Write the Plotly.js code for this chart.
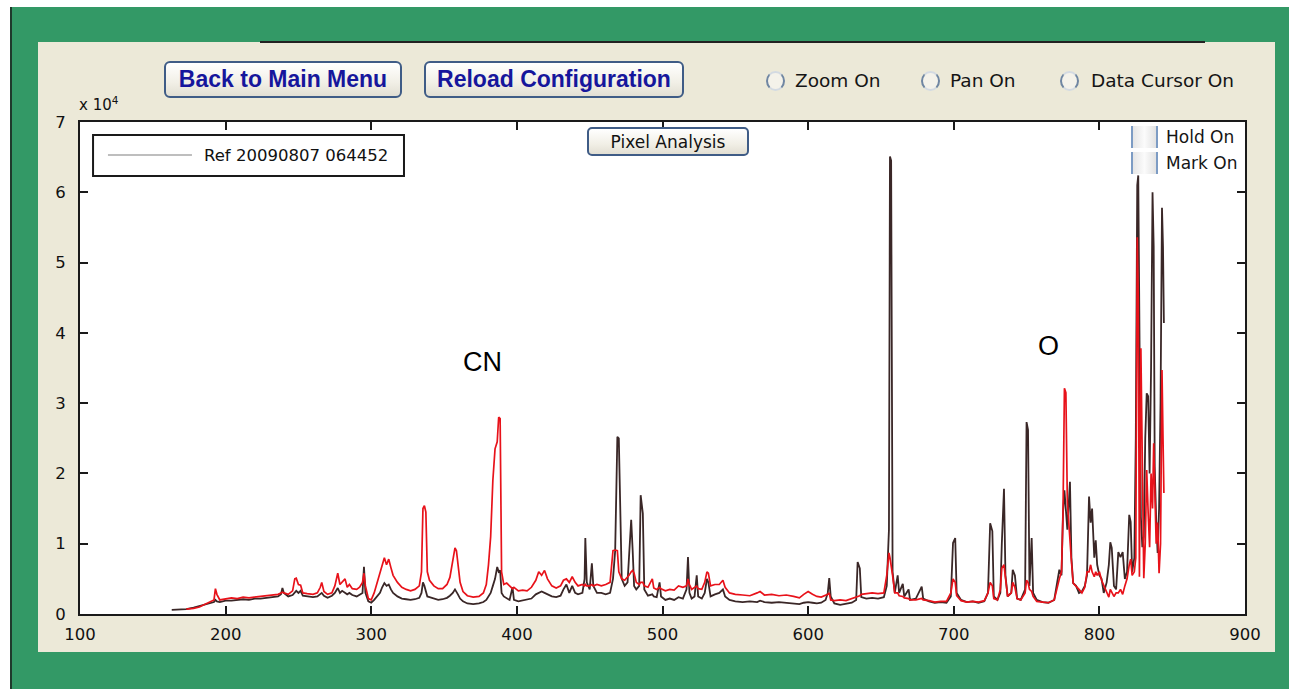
<!DOCTYPE html>
<html>
<head>
<meta charset="utf-8">
<script src="https://cdn.plot.ly/plotly-3.0.1.min.js"></script>
<style>
  html, body { margin:0; padding:0; background:#ffffff; }
  #stage { position:relative; width:1289px; height:689px; overflow:hidden; background:#ffffff; }
  .abs { position:absolute; }
  .btn { position:absolute; box-sizing:border-box; border:2px solid #3f5c86; border-radius:6px;
         background:linear-gradient(#ffffff, #f1efe6 60%, #e2dfd3); display:flex; align-items:center;
         justify-content:center; white-space:nowrap; }
  .btn.big { font:bold 23px 'Liberation Sans', Arial, sans-serif; color:#16169c; }
  .btn.small { font:17px 'DejaVu Sans', sans-serif; color:#111; border-width:2px; border-radius:5px; }
  .radio { position:absolute; box-sizing:border-box; width:19px; height:20px; border:2px solid;
           border-color:#d3dae2 #6f86a2 #d3dae2 #6f86a2; border-radius:50%; background:#f4f2ea; }
  .lbl { position:absolute; font:18.5px 'DejaVu Sans', sans-serif; color:#151515; white-space:nowrap;
         height:22px; line-height:22px; }
  .chk { position:absolute; box-sizing:border-box; width:27px; height:22px; border-left:2px solid #7d9cc4;
         border-right:2px solid #7d9cc4; background:linear-gradient(90deg,#e6e6e6,#fbfbfb 50%,#e2e2e2); }
  .chklbl { position:absolute; font:17px 'DejaVu Sans', sans-serif; color:#151515; white-space:nowrap;
            height:20px; line-height:20px; }
</style>
</head>
<body>
<div id="stage">
  <div class="abs" style="left:10px;top:7px;width:1279px;height:682px;background:#339966;border-left:2px solid #1f3a2c;box-sizing:border-box;"></div>
  <div class="abs" style="left:38px;top:42px;width:1237px;height:610px;background:#ece9d8;"></div>
  <div class="abs" style="left:260px;top:41px;width:945px;height:2px;background:#222;"></div>
  <div id="chart" class="abs" style="left:0;top:0;width:1289px;height:689px;"></div>

  <div class="btn big" style="left:164px;top:61px;width:238px;height:37px;">Back to Main Menu</div>
  <div class="btn big" style="left:424px;top:61px;width:260px;height:37px;">Reload Configuration</div>

  <div class="radio" style="left:766px;top:71px;"></div>
  <div class="lbl" style="left:795px;top:70px;">Zoom On</div>
  <div class="radio" style="left:921px;top:71px;"></div>
  <div class="lbl" style="left:950px;top:70px;">Pan On</div>
  <div class="radio" style="left:1060px;top:71px;"></div>
  <div class="lbl" style="left:1091px;top:70px;">Data Cursor On</div>

  <div class="btn small" style="left:587px;top:127px;width:162px;height:29px;">Pixel Analysis</div>

  <div class="chk" style="left:1131px;top:126px;"></div>
  <div class="chklbl" style="left:1166px;top:127px;">Hold On</div>
  <div class="chk" style="left:1131px;top:152px;"></div>
  <div class="chklbl" style="left:1166px;top:153px;">Mark On</div>
</div>

<script>
// Wavelength (nm)
const wavelength = [
 163,170,173,178,182,186,189,192,193,194,196,200,204,208,212,216,220,224,228,232,236,238,239,240,243,246,247.5,248.5,250,251.5,
 253,256,260,263,265,266,267.5,270,273,275,277,278.5,280,282,283.5,285,287,290,292,294,295,296,298,300,302,304,306,307.5,309,310.5,
 312,313.5,315,318,321,324,327,330,333,334.5,335.5,336.5,337.5,338.5,340,343,346,349,352,354,356,357.5,358.5,359.5,361,363,366,370,374,377,
 379,380.5,382,383.5,385,386.5,387.5,388.5,389.5,391,393,395,397,398,401,404,407,410,413,415,417,419,421,424,427,430,432,434,436,438,
 440,442,445,446.5,447,448,450,451.5,452.5,455,458,461,464,466,467.5,469,470,471,472,474,476,477,478.5,479.5,480.5,482,484,485,486.5,487.5,
 490,493,494,496,498,499,502,505,508,511,514,516.5,517.5,518.5,520,522,523.5,524.5,527,529,530.5,531.5,533,536,539,541.5,543,546,550,555,
 560,565,567,570,575,580,585,590,594,597,600,603,606,609,612,613.5,614.5,615.5,618,622,626,630,633,634,635.5,636.5,640,644,648,652,
 654,655.5,656.2,657,658,659.5,661.5,662.5,665,666,669,670,674,678,679,683,687,691,695,698,699.5,701,702,705,709,713,717,721,723.5,725,
 726.5,727.5,730,732,733,734.5,735.5,737,739.5,740.5,742,743.5,746,749,750,751,752,753.5,754.5,757,761,765,769,771,772.5,774,775,776,
 777,778,779.8,780.8,782,784,786,788,790,791.5,792.9,794,795,796.5,797.5,798.5,800,801.5,803,805,806.5,807.5,808.5,810,811.5,813,814.5,816,
 817.5,819,820.5,821.5,822.5,824,825,826,826.7,827.5,828.5,829.5,830.5,831.5,832.5,833.5,834.5,835.5,836.5,837.3,838,839,840,841,842,843,
 843.7,844.3
];

// Dark reference spectrum (counts x 10^4)
const darkSpectrum = [
 0.06,0.07,0.07,0.09,0.11,0.13,0.15,0.17,0.20,0.18,0.17,0.19,0.19,0.20,0.21,0.20,0.22,0.22,0.23,0.25,0.25,0.28,0.37,0.30,0.25,0.27,0.30,0.33,0.30,0.33,
 0.26,0.25,0.24,0.25,0.28,0.30,0.26,0.23,0.26,0.30,0.37,0.30,0.33,0.30,0.28,0.30,0.27,0.25,0.27,0.30,0.67,0.30,0.18,0.16,0.20,0.25,0.30,0.38,0.44,0.40,
 0.42,0.35,0.30,0.25,0.22,0.21,0.20,0.21,0.23,0.30,0.45,0.40,0.30,0.25,0.24,0.22,0.20,0.21,0.23,0.26,0.30,0.35,0.32,0.28,0.22,0.18,0.15,0.14,0.15,0.17,
 0.20,0.25,0.30,0.40,0.50,0.67,0.60,0.62,0.30,0.25,0.22,0.20,0.38,0.20,0.18,0.19,0.20,0.22,0.28,0.30,0.32,0.30,0.28,0.25,0.24,0.26,0.35,0.42,0.30,0.40,
 0.30,0.28,0.30,0.50,1.08,0.45,0.35,0.72,0.40,0.30,0.30,0.28,0.30,0.50,0.90,2.52,2.50,1.69,0.50,0.40,0.45,0.81,1.34,0.91,0.40,0.35,0.40,1.69,1.43,0.35,
 0.26,0.28,0.25,0.24,0.45,0.25,0.20,0.22,0.20,0.24,0.22,0.35,0.81,0.30,0.22,0.25,0.55,0.25,0.22,0.30,0.50,0.45,0.25,0.28,0.30,0.35,0.25,0.20,0.18,0.17,
 0.18,0.17,0.19,0.17,0.16,0.17,0.16,0.15,0.14,0.16,0.17,0.16,0.15,0.16,0.20,0.30,0.51,0.25,0.15,0.13,0.14,0.16,0.20,0.74,0.65,0.24,0.22,0.23,0.22,0.24,
 0.40,1.20,6.51,6.45,0.60,0.30,0.55,0.30,0.43,0.25,0.35,0.20,0.22,0.39,0.22,0.18,0.16,0.17,0.16,0.25,1.01,1.08,0.30,0.20,0.17,0.18,0.16,0.18,0.30,1.29,
 1.18,0.25,0.20,0.30,1.00,1.78,0.55,0.25,0.30,0.63,0.55,0.22,0.20,0.35,2.73,2.62,0.40,1.08,0.30,0.20,0.17,0.16,0.20,0.48,0.63,0.55,1.43,1.76,
 1.50,1.20,1.88,0.80,0.44,0.40,0.30,0.32,0.40,0.55,1.67,1.30,1.50,0.80,1.05,0.70,0.55,0.50,0.30,0.45,0.70,1.02,0.94,0.40,0.35,0.88,0.81,0.88,
 0.50,0.60,1.41,1.31,0.60,0.80,2.50,6.10,6.24,4.50,1.38,0.95,1.10,2.50,3.14,3.10,2.00,3.50,6.00,5.22,2.10,1.34,0.87,1.50,3.00,5.78,
 5.22,4.14
];

// Red sample spectrum (counts x 10^4)
const redSpectrum = [
 null,null,0.07,0.08,0.10,0.14,0.16,0.20,0.36,0.28,0.20,0.21,0.23,0.22,0.24,0.23,0.24,0.25,0.26,0.27,0.28,0.30,0.31,0.30,0.28,0.33,0.50,0.51,0.42,0.41,
 0.30,0.29,0.28,0.30,0.38,0.45,0.32,0.28,0.30,0.40,0.58,0.42,0.45,0.50,0.38,0.42,0.36,0.35,0.38,0.45,0.58,0.40,0.22,0.20,0.30,0.45,0.60,0.72,0.80,0.70,
 0.78,0.66,0.55,0.45,0.38,0.35,0.33,0.35,0.40,0.60,1.50,1.54,1.45,0.60,0.48,0.40,0.36,0.36,0.42,0.52,0.75,0.94,0.90,0.70,0.45,0.32,0.26,0.24,0.25,0.30,
 0.42,0.70,1.10,1.90,2.35,2.45,2.80,2.78,0.60,0.42,0.44,0.40,0.36,0.38,0.33,0.34,0.33,0.38,0.48,0.60,0.55,0.62,0.50,0.40,0.37,0.40,0.48,0.50,0.45,0.53,
 0.45,0.40,0.42,0.40,0.42,0.40,0.40,0.42,0.40,0.42,0.40,0.42,0.45,0.90,0.91,0.90,0.60,0.55,0.50,0.48,0.52,0.55,0.60,0.62,0.58,0.45,0.42,0.45,0.45,0.40,
 0.38,0.50,0.37,0.35,0.38,0.36,0.33,0.35,0.34,0.40,0.38,0.40,0.50,0.42,0.35,0.38,0.40,0.36,0.35,0.45,0.60,0.58,0.40,0.42,0.42,0.48,0.38,0.30,0.28,0.27,
 0.26,0.30,0.32,0.27,0.28,0.26,0.27,0.25,0.23,0.28,0.32,0.28,0.25,0.24,0.26,0.28,0.30,0.20,0.19,0.20,0.19,0.22,0.24,0.25,0.26,0.28,0.29,0.30,0.29,0.30,
 0.55,0.87,0.80,0.70,0.55,0.30,0.30,0.26,0.25,0.23,0.22,0.20,0.20,0.22,0.20,0.19,0.17,0.18,0.18,0.30,0.50,0.45,0.26,0.19,0.17,0.18,0.17,0.19,0.30,0.45,
 0.40,0.22,0.20,0.35,0.65,0.70,0.50,0.25,0.30,0.45,0.38,0.22,0.20,0.30,0.48,0.45,0.35,0.32,0.25,0.18,0.17,0.16,0.20,0.40,0.50,0.60,1.40,3.21,
 3.15,1.60,0.95,0.75,0.44,0.40,0.35,0.30,0.38,0.60,0.60,0.70,0.60,0.53,0.60,0.55,0.60,0.48,0.40,0.30,0.24,0.35,0.30,0.25,0.30,0.30,0.35,0.28,
 0.40,0.50,0.70,0.78,0.55,0.60,0.80,5.36,4.47,0.53,3.78,2.38,0.51,1.00,2.05,1.44,0.95,2.00,1.50,2.43,1.72,1.00,1.30,0.58,1.00,3.47,
 2.50,1.72
];

const xTickValues = [100,200,300,400,500,600,700,800,900];
const yTickValues = [0,1,2,3,4,5,6,7];
const legendLabel = 'Ref 20090807 064452';
const peakLabels = ['CN','O'];
const peakLabelX = [376.7, 765.4];
const peakLabelY = [3.58, 3.81];

const traces = [
  {x: wavelength, y: darkSpectrum, type:'scatter', mode:'lines',
   line:{color:'#3a2727', width:1.8}, showlegend:false, hoverinfo:'skip'},
  {x: wavelength, y: redSpectrum, type:'scatter', mode:'lines',
   line:{color:'#e8121a', width:1.7}, showlegend:false, hoverinfo:'skip', connectgaps:false}
];

const axisCommon = {
  ticks:'inside', ticklen:8, tickwidth:2, tickcolor:'#1a1a1a',
  showline:true, linecolor:'#1a1a1a', linewidth:2, mirror:'ticks',
  showgrid:false, zeroline:false,
  tickfont:{family:'DejaVu Sans', size:16.5, color:'#111111'}
};

const layout = {
  width:1289, height:689,
  margin:{l:80, r:44, t:122, b:75, pad:0},
  paper_bgcolor:'rgba(0,0,0,0)', plot_bgcolor:'#ffffff',
  font:{family:'DejaVu Sans', size:16, color:'#111111'},
  xaxis:Object.assign({}, axisCommon, {range:[100,900], tickvals:xTickValues, ticktext:xTickValues.map(String), ticklabelstandoff:4}),
  yaxis:Object.assign({}, axisCommon, {range:[0,7], tickvals:yTickValues, ticktext:yTickValues.map(String), ticklabelstandoff:9}),
  shapes:[
    {type:'rect', xref:'paper', yref:'paper', x0:0.0112, x1:0.2781, y0:0.8902, y1:0.9736,
     fillcolor:'#ffffff', line:{color:'#1a1a1a', width:2}, layer:'above'},
    {type:'line', xref:'paper', yref:'paper', x0:0.0240, x1:0.0961, y0:0.9329, y1:0.9329,
     line:{color:'#a8a8a8', width:1.5}, layer:'above'}
  ],
  annotations:[
    {xref:'paper', yref:'paper', x:0.1047, y:0.9329, xanchor:'left', yanchor:'middle', showarrow:false,
     text:legendLabel, font:{family:'DejaVu Sans', size:16.5, color:'#111111'}},
    {xref:'paper', yref:'paper', x:-0.003, y:1.036, xanchor:'left', yanchor:'middle', showarrow:false,
     text:'x 10<sup>4</sup>', font:{family:'DejaVu Sans', size:15, color:'#111111'}},
    {x:peakLabelX[0], y:peakLabelY[0], xref:'x', yref:'y', showarrow:false, text:peakLabels[0],
     font:{family:'Liberation Sans', size:27, color:'#000000'}},
    {x:peakLabelX[1], y:peakLabelY[1], xref:'x', yref:'y', showarrow:false, text:peakLabels[1],
     font:{family:'Liberation Sans', size:27, color:'#000000'}}
  ]
};

Plotly.newPlot('chart', traces, layout, {staticPlot:true, displayModeBar:false});
</script>
</body>
</html>
